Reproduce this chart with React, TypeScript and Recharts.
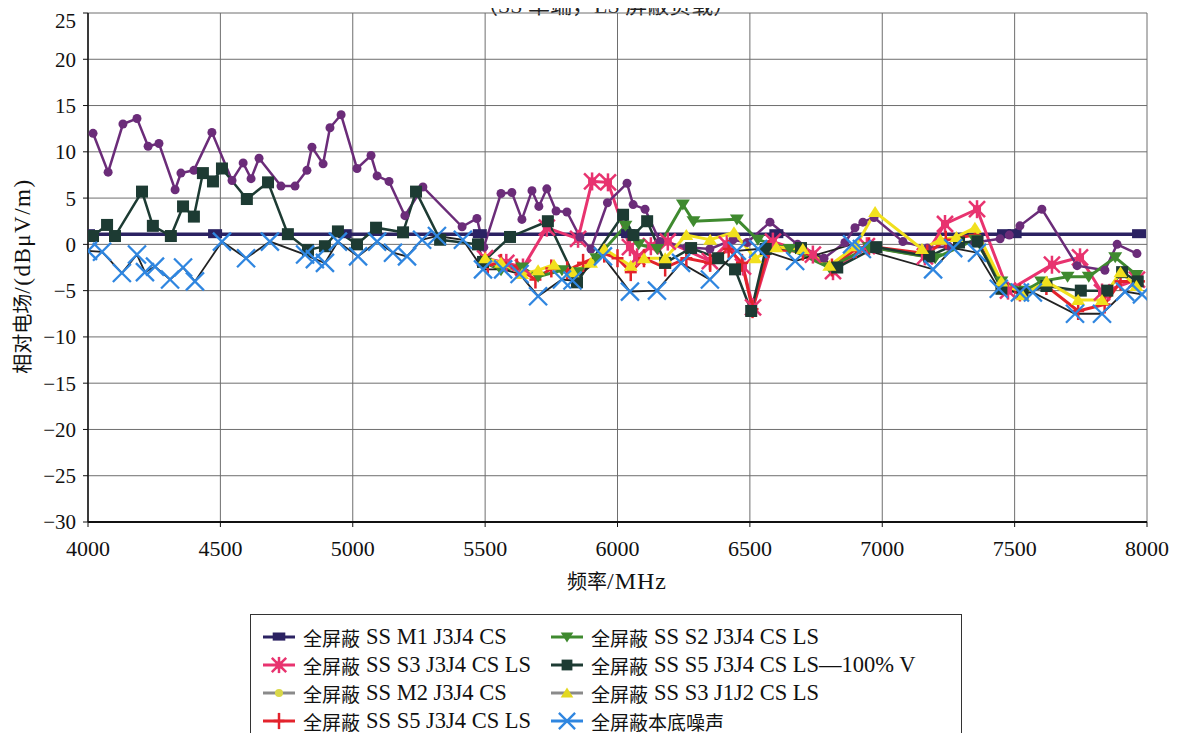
import { LineChart, Line, XAxis, YAxis, CartesianGrid, Legend, Label } from "recharts";

const FONT = "'Liberation Serif', 'Noto Sans CJK SC', serif";

const xTicks = [4000, 4500, 5000, 5500, 6000, 6500, 7000, 7500, 8000];
const yTicks = [-30, -25, -20, -15, -10, -5, 0, 5, 10, 15, 20, 25];

// 全屏蔽 SS M1 J3J4 CS
const m1Freq = [4000, 4480, 4970, 5480, 6040, 6600, 7460, 7500, 7970];
const m1Level = [1.1, 1.1, 1.1, 1.1, 1.1, 1.1, 1.1, 1.1, 1.1];

// 全屏蔽 SS S3 J3J4 CS LS
const s3Freq = [5500, 5580, 5643, 5733, 5851, 5904, 5964, 6047, 6074, 6126, 6190, 6349, 6413, 6474, 6512, 6587, 6738, 6814, 6942, 7161, 7237, 7358, 7475, 7641, 7747, 7830, 7962];
const s3Level = [-1.5, -2.0, -2.5, 1.8, 0.6, 6.8, 6.7, -0.3, -1.4, -0.2, 0.3, -1.8, 0.0, -2.4, -6.8, 0.3, -1.1, -2.9, -0.2, -1.3, 2.2, 3.8, -5.0, -2.2, -1.4, -5.2, -3.8];

// 全屏蔽 SS M2 J3J4 CS
const m2Freq = [4019, 4076, 4132, 4185, 4227, 4268, 4329, 4351, 4400, 4468, 4544, 4586, 4616, 4646, 4729, 4782, 4827, 4846, 4888, 4914, 4956, 5016, 5069, 5092, 5137, 5197, 5265, 5413, 5469, 5495, 5560, 5601, 5639, 5677, 5703, 5733, 5768, 5809, 5858, 5900, 5962, 6036, 6059, 6104, 6160, 6262, 6349, 6436, 6490, 6576, 6680, 6780, 6859, 6897, 6927, 6969, 7078, 7170, 7250, 7350, 7445, 7480, 7520, 7603, 7736, 7841, 7887, 7962];
const m2Level = [12.0, 7.8, 13.0, 13.6, 10.6, 10.9, 5.9, 7.7, 8.0, 12.1, 6.9, 8.8, 7.1, 9.3, 6.3, 6.3, 8.0, 10.5, 8.7, 12.6, 14.0, 8.2, 9.6, 7.4, 6.8, 3.1, 6.2, 1.9, 2.8, -0.3, 5.5, 5.6, 2.7, 5.8, 4.1, 6.0, 3.6, 3.5, 0.8, -0.5, 4.5, 6.6, 4.3, 3.8, 0.3, -0.3, -0.5, 0.5, 0.2, 2.4, 0.0, -1.5, 0.2, 1.8, 2.4, 2.9, 0.3, -0.4, -0.2, 0.2, 0.6, 1.0, 2.0, 3.8, -2.3, -2.8, 0.0, -1.0];

// 全屏蔽 SS S5 J3J4 CS LS
const s5Freq = [5510, 5560, 5620, 5690, 5750, 5810, 5870, 5950, 6000, 6050, 6100, 6180, 6260, 6350, 6420, 6470, 6510, 6570, 6700, 6810, 6900, 6950, 7170, 7240, 7350, 7450, 7520, 7620, 7740, 7840, 7900, 7970];
const s5Level = [-2.2, -2.0, -2.5, -3.8, -2.6, -2.8, -2.0, -1.0, -1.5, -3.0, -1.5, -2.5, -1.5, -2.0, -0.5, -2.0, -7.0, -0.5, -0.8, -2.5, -0.5, -0.2, -1.0, 0.5, 1.0, -4.5, -5.2, -4.5, -7.2, -6.5, -4.0, -4.0];

// 全屏蔽 SS S2 J3J4 CS LS
const s2Freq = [5500, 5560, 5640, 5700, 5790, 5850, 5920, 6030, 6080, 6150, 6247, 6287, 6451, 6530, 6650, 6800, 6950, 7200, 7350, 7450, 7540, 7600, 7700, 7780, 7880, 7960];
const s2Level = [-2.0, -2.8, -2.5, -3.5, -2.8, -3.0, -1.5, 2.0, 0.0, -0.5, 4.3, 2.5, 2.7, 0.5, -0.5, -2.5, -0.3, -1.5, 0.5, -4.0, -5.0, -4.0, -3.5, -3.5, -1.4, -3.3];

// 全屏蔽 SS S5 J3J4 CS LS—100% V
const s5vFreq = [4019, 4072, 4102, 4204, 4245, 4313, 4359, 4400, 4434, 4472, 4506, 4600, 4680, 4755, 4831, 4895, 4944, 5016, 5088, 5190, 5239, 5330, 5473, 5492, 5594, 5737, 5847, 6021, 6060, 6112, 6180, 6278, 6380, 6444, 6505, 6560, 6693, 6830, 6977, 7177, 7290, 7360, 7450, 7530, 7620, 7750, 7850, 7906, 7965];
const s5vLevel = [0.9, 2.1, 0.9, 5.7, 2.0, 0.9, 4.1, 3.0, 7.7, 6.8, 8.2, 4.9, 6.7, 1.1, -0.6, -0.2, 1.4, 0.0, 1.8, 1.3, 5.7, 0.5, 0.0, -1.9, 0.8, 2.5, -4.1, 3.2, 1.0, 2.5, -2.0, -0.4, -1.5, -2.7, -7.2, -0.5, -0.4, -2.5, -0.3, -1.3, 0.2, 0.3, -4.8, -5.3, -4.5, -5.0, -5.0, -3.0, -4.0];

// 全屏蔽 SS S3 J1J2 CS LS
const s3jFreq = [5500, 5560, 5640, 5700, 5760, 5830, 5900, 5950, 6050, 6100, 6180, 6260, 6350, 6440, 6520, 6600, 6700, 6800, 6900, 6973, 7150, 7220, 7280, 7350, 7450, 7530, 7620, 7740, 7830, 7900, 7960];
const s3jLevel = [-1.5, -2.0, -3.2, -2.8, -2.2, -3.0, -2.0, -0.5, -2.3, -1.5, -1.5, 1.0, 0.5, 1.3, -1.5, -0.3, -0.5, -2.3, -0.2, 3.5, -0.5, 0.5, 0.8, 1.8, -4.0, -5.5, -4.0, -6.0, -6.0, -3.0, -4.5];

// 全屏蔽本底噪声
const noiseFreq = [4000, 4053, 4128, 4185, 4215, 4253, 4310, 4359, 4404, 4506, 4597, 4687, 4820, 4857, 4895, 4944, 5020, 5092, 5152, 5205, 5262, 5318, 5416, 5492, 5568, 5630, 5700, 5790, 5830, 5945, 6047, 6149, 6240, 6349, 6451, 6531, 6671, 6886, 6923, 7192, 7268, 7358, 7440, 7520, 7569, 7728, 7830, 7917, 7981];
const noiseLevel = [-0.7, -0.8, -3.1, -1.1, -3.0, -2.4, -3.8, -2.5, -4.0, 0.3, -1.5, 0.3, -1.1, -1.6, -2.0, 0.3, -1.3, 0.3, -0.9, -1.3, 0.5, 0.9, 0.5, -2.7, -2.7, -3.2, -5.6, -3.8, -3.9, -1.3, -5.1, -5.0, -2.0, -3.8, -0.7, -0.5, -1.8, 0.0, -0.5, -2.7, -0.4, -0.9, -4.8, -5.2, -5.2, -7.5, -7.5, -5.1, -5.4];

const toRows = (xs: number[], ys: number[]) => xs.map((f, i) => ({ f, v: ys[i] }));

const C = {
  navy: "#2b2262",
  pink: "#e8336f",
  purple: "#6b2c79",
  red: "#e3232c",
  green: "#3f8a2f",
  dark: "#1d3b33",
  yellow: "#f1e01e",
  blue: "#2f86e0",
};

type Mark = "rect" | "star" | "circle" | "plus" | "down" | "square" | "up" | "cross";

function drawMark(kind: Mark, cx: number, cy: number, color: string, key?: any, scale = 1) {
  const k = scale;
  switch (kind) {
    case "rect":
      return <rect key={key} x={cx - 7 * k} y={cy - 5 * k} width={14 * k} height={9 * k} fill={color} />;
    case "square":
      return <rect key={key} x={cx - 6 * k} y={cy - 6 * k} width={12 * k} height={12 * k} fill={color} />;
    case "circle":
      return <circle key={key} cx={cx} cy={cy} r={4.5 * k} fill={color} />;
    case "down":
      return <path key={key} d={`M${cx - 7 * k},${cy - 5 * k} L${cx + 7 * k},${cy - 5 * k} L${cx},${cy + 6 * k} Z`} fill={color} />;
    case "up":
      return <path key={key} d={`M${cx - 7 * k},${cy + 5 * k} L${cx + 7 * k},${cy + 5 * k} L${cx},${cy - 6 * k} Z`} fill={color} />;
    case "plus":
      return (
        <g key={key} stroke={color} strokeWidth={2.5}>
          <line x1={cx} y1={cy - 9 * k} x2={cx} y2={cy + 9 * k} />
          <line x1={cx - 6 * k} y1={cy} x2={cx + 6 * k} y2={cy} />
        </g>
      );
    case "cross":
      return (
        <g key={key} stroke={color} strokeWidth={2.3}>
          <line x1={cx - 9 * k} y1={cy - 9 * k} x2={cx + 9 * k} y2={cy + 9 * k} />
          <line x1={cx - 9 * k} y1={cy + 9 * k} x2={cx + 9 * k} y2={cy - 9 * k} />
        </g>
      );
    case "star":
      return (
        <g key={key} stroke={color} strokeWidth={2.5}>
          <line x1={cx - 8 * k} y1={cy - 8 * k} x2={cx + 8 * k} y2={cy + 8 * k} />
          <line x1={cx - 8 * k} y1={cy + 8 * k} x2={cx + 8 * k} y2={cy - 8 * k} />
          <line x1={cx} y1={cy - 9 * k} x2={cx} y2={cy + 9 * k} />
          <rect x={cx - 4 * k} y={cy - 4 * k} width={8 * k} height={8 * k} fill={color} stroke="none" />
        </g>
      );
  }
}

const dotOf = (kind: Mark, color: string) => (p: any) => {
  if (p.cx == null || p.cy == null) return <g key={p.index} />;
  return drawMark(kind, p.cx, p.cy, color, p.index);
};

const series = [
  { name: "全屏蔽 SS M1 J3J4 CS", data: toRows(m1Freq, m1Level), line: C.navy, mark: C.navy, kind: "rect" as Mark, w: 3.5, legendLine: C.navy },
  { name: "全屏蔽 SS S3 J3J4 CS LS", data: toRows(s3Freq, s3Level), line: C.pink, mark: C.pink, kind: "star" as Mark, w: 3, legendLine: C.pink },
  { name: "全屏蔽 SS M2 J3J4 CS", data: toRows(m2Freq, m2Level), line: C.purple, mark: C.purple, kind: "circle" as Mark, w: 2.5, legendLine: "#8a8a8a", legendMark: "#d9d84a" },
  { name: "全屏蔽 SS S5 J3J4 CS LS", data: toRows(s5Freq, s5Level), line: C.red, mark: C.red, kind: "plus" as Mark, w: 3, legendLine: C.red },
  { name: "全屏蔽 SS S2 J3J4 CS LS", data: toRows(s2Freq, s2Level), line: C.green, mark: C.green, kind: "down" as Mark, w: 3, legendLine: C.green },
  { name: "全屏蔽 SS S5 J3J4 CS LS—100% V", data: toRows(s5vFreq, s5vLevel), line: C.dark, mark: C.dark, kind: "square" as Mark, w: 2.5, legendLine: C.dark },
  { name: "全屏蔽 SS S3 J1J2 CS LS", data: toRows(s3jFreq, s3jLevel), line: C.yellow, mark: C.yellow, kind: "up" as Mark, w: 3, legendLine: "#8a8a8a", legendMark: "#e3d820" },
  { name: "全屏蔽本底噪声", data: toRows(noiseFreq, noiseLevel), line: "#222222", mark: C.blue, kind: "cross" as Mark, w: 1.8, legendLine: C.blue },
];

const legendOrder = [0, 4, 1, 5, 2, 6, 3, 7];

// CJK prefix a bit smaller than the Latin part, like the printed figure
const splitName = (name: string) => {
  const m = name.match(/^([^A-Za-z]*)(.*)$/);
  return m ? [m[1].trim(), m[2]] : [name, ""];
};

const renderLegend = () => (
  <div
    style={{
      border: "1.5px solid #333",
      background: "#fff",
      width: 712,
      height: 140,
      boxSizing: "border-box",
      padding: "8px 0 0 10px",
      display: "grid",
      gridTemplateColumns: "288px 420px",
      gridAutoRows: "28px",
      fontFamily: FONT,
      color: "#111",
    }}
  >
    {legendOrder.map((i) => {
      const s = series[i];
      const m = (s as any).legendMark || s.mark;
      const [cjk, latin] = splitName(s.name);
      return (
        <div key={i} style={{ display: "flex", alignItems: "center", whiteSpace: "nowrap" }}>
          <svg width={36} height={24} style={{ marginRight: 6 }}>
            <line x1={2} y1={12} x2={34} y2={12} stroke={s.legendLine} strokeWidth={3} />
            {drawMark(s.kind, 18, 12, m, undefined, 0.9)}
          </svg>
          <span style={{ fontSize: 19 }}>{cjk}</span>
          {latin && <span style={{ fontSize: 22.5, marginLeft: 6 }}>{latin}</span>}
        </div>
      );
    })}
  </div>
);

const fmtY = (v: number) => (v < 0 ? `\u2212${-v}` : `${v}`);

const yTitle = () => (
  <text transform="translate(22,268) rotate(-90)" textAnchor="middle" fill="#111" fontFamily={FONT}>
    <tspan fontSize={20}>相对电场</tspan>
    <tspan fontSize={23} letterSpacing={1.5}>/(dBμV/m)</tspan>
  </text>
);

const xTitle = () => (
  <text x={609} y={581} textAnchor="middle" fill="#111" fontFamily={FONT}>
    <tspan fontSize={20}>频率</tspan>
    <tspan fontSize={24} letterSpacing={1}>/MHz</tspan>
  </text>
);

export default function App() {
  return (
    <div style={{ position: "relative", width: 1163, height: 725, fontFamily: FONT }}>
      <style>{`.recharts-wrapper text, .recharts-wrapper tspan { font-family: ${FONT}; }`}</style>
      <div
        style={{
          position: "absolute",
          top: -21,
          left: 468,
          fontSize: 22,
          fontFamily: FONT,
          color: "#222",
          whiteSpace: "nowrap",
        }}
      >
        （SS 单端，LS 屏蔽负载）
      </div>
      <LineChart width={1163} height={590} margin={{ top: 5, right: 24, left: 0, bottom: 0 }}>
        <CartesianGrid stroke="#6e6e6e" strokeWidth={1} />
        <XAxis
          type="number"
          dataKey="f"
          domain={[4000, 8000]}
          ticks={xTicks}
          allowDataOverflow
          height={76}
          tickSize={5}
          tickMargin={13}
          axisLine={{ stroke: "#111", strokeWidth: 2 }}
          tickLine={{ stroke: "#111" }}
          tick={{ fontSize: 22, fill: "#111", fontFamily: FONT }}
        >
          <Label content={xTitle} />
        </XAxis>
        <YAxis
          type="number"
          domain={[-30, 25]}
          ticks={yTicks}
          allowDataOverflow
          width={80}
          tickSize={5}
          tickMargin={7}
          tickFormatter={fmtY}
          axisLine={{ stroke: "#111", strokeWidth: 1.5 }}
          tickLine={{ stroke: "#111" }}
          tick={{ fontSize: 21, fill: "#111", fontFamily: FONT }}
        >
          <Label content={yTitle} />
        </YAxis>
        {series.map((s) => (
          <Line
            key={s.name}
            data={s.data}
            dataKey="v"
            name={s.name}
            type="linear"
            stroke={s.line}
            strokeWidth={s.w}
            dot={dotOf(s.kind, s.mark)}
            activeDot={false}
            isAnimationActive={false}
          />
        ))}
        <Legend
          content={renderLegend}
          layout="horizontal"
          verticalAlign="middle"
          align="center"
          wrapperStyle={{ top: 606, left: 242, width: 712, height: 140 }}
        />
      </LineChart>
    </div>
  );
}
